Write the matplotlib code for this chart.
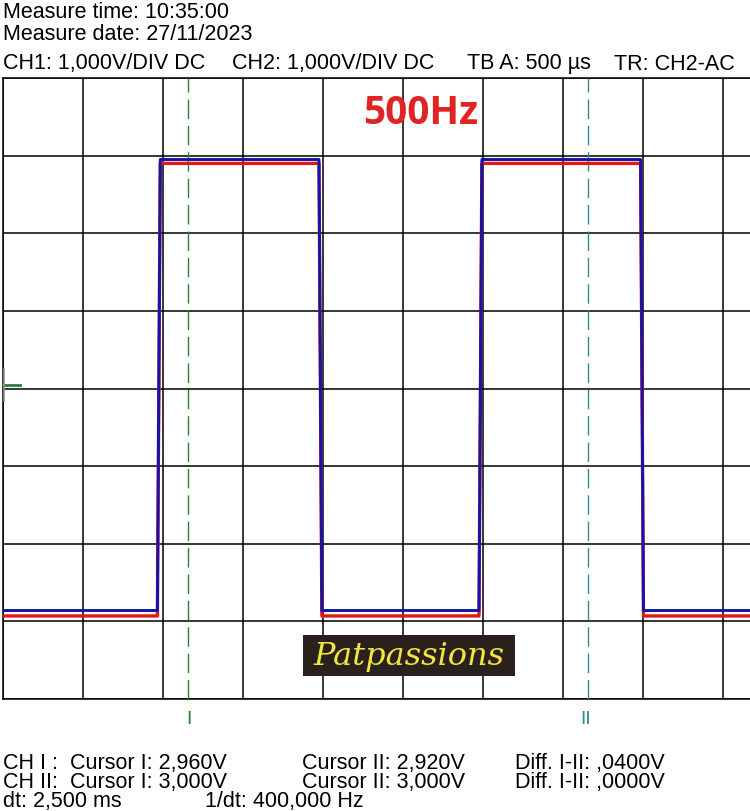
import matplotlib
matplotlib.use("Agg")
import matplotlib.pyplot as plt
from matplotlib.patches import Rectangle
import numpy as np

W, H = 750, 812

# scope settings (ms per div, V per div)
MS_PER_DIV = 0.5
V_PER_DIV = 1.0

ch1_edges = [0.965, 1.975, 2.975, 3.985]
ch1_high, ch1_low = 2.90, -2.93
ch2_edges = [0.965, 1.975, 2.975, 3.985]
ch2_high, ch2_low = 2.95, -2.86
rise_ms = 0.018

cursor1_ms = 1.156
cursor2_ms = 3.656

header = ["Measure time: 10:35:00", "Measure date: 27/11/2023"]
settings = [("CH1: 1,000V/DIV DC", 3), ("CH2: 1,000V/DIV DC", 232),
            ("TB A: 500 µs", 467), ("TR: CH2-AC", 614)]
footer = [
    [("CH I :  Cursor I: 2,960V", 3), ("Cursor II: 2,920V", 302), ("Diff. I-II: ,0400V", 515)],
    [("CH II:  Cursor I: 3,000V", 3), ("Cursor II: 3,000V", 302), ("Diff. I-II: ,0000V", 515)],
    [("dt: 2,500 ms", 3), ("1/dt: 400,000 Hz", 205)],
]


def square(edges, high, low, tmax):
    t, v = [0.0], [low]
    cur = low
    for e in edges:
        new = high if cur == low else low
        t += [e, e + rise_ms]
        v += [cur, new]
        cur = new
    t.append(tmax)
    v.append(cur)
    return np.array(t), np.array(v)


def px(x, y):
    return x / W, 1 - y / H


fig = plt.figure(figsize=(W / 100, H / 100), dpi=100)
fig.patch.set_facecolor("white")

left, top, bottom = 3, 79, 700
ax = fig.add_axes([left / W, 1 - bottom / H, (W - left) / W, (bottom - top) / H])
xmax = (W - left) / 80 * MS_PER_DIV
ax.set_xlim(0, xmax)
ax.set_ylim(-4 * V_PER_DIV, 4 * V_PER_DIV)
ax.set_xticks(np.arange(0, xmax, MS_PER_DIV))
ax.set_yticks(np.arange(-4, 5, V_PER_DIV))
ax.tick_params(length=0, labelbottom=False, labelleft=False)
ax.grid(True, color="black", linewidth=1.1)
for s in ["top", "bottom", "left"]:
    ax.spines[s].set_linewidth(1.1)
ax.spines["right"].set_visible(False)

# cursors
ax.axvline(cursor1_ms, color="#2e7d3a", lw=1.0, dashes=(14, 5), zorder=3)
ax.axvline(cursor2_ms, color="#2f8a8a", lw=1.0, dashes=(14, 5), zorder=3)

t1, v1 = square(ch1_edges, ch1_high, ch1_low, xmax)
t2, v2 = square(ch2_edges, ch2_high, ch2_low, xmax)
ax.plot(t1, v1, color="#e01818", lw=2.4, zorder=4)
ax.plot(t2, v2, color="#1414a8", lw=2.1, zorder=5)

# ground marker
ax.plot([0, 0.105], [0.045, 0.045], color="#2e7d3a", lw=2.0, zorder=6, clip_on=False)
ax.plot([0.004, 0.004], [-0.16, 0.25], color="#909090", lw=1.2, zorder=6, clip_on=False)

# texts
font = "Liberation Sans"
for i, s in enumerate(header):
    x, y = px(3, 13 + 22 * i)
    fig.text(x, y, s, fontsize=15.5, family=font, va="center")
for s, xp in settings:
    x, y = px(xp, 64)
    fig.text(x, y, s, fontsize=15.5, family=font, va="center")
for row, items in enumerate(footer):
    for s, xp in items:
        x, y = px(xp, 764 + 19 * row)
        fig.text(x, y, s, fontsize=15.5, family=font, va="center")

x, y = px(421, 113)
fig.text(x, y, "500Hz", fontsize=28, family="Open Sans", weight="bold",
         color="#e02424", ha="center", va="center")

x, y = px(189, 720)
fig.text(x, y, "I", fontsize=14, family=font, color="#2e7d3a", ha="center", va="center")
x, y = px(586, 720)
fig.text(x, y, "II", fontsize=14, family=font, color="#2f8a8a", ha="center", va="center")

# logo
x0, y0 = px(303, 677)
fig.patches.append(Rectangle((x0, y0), 212 / W, 41 / H, transform=fig.transFigure,
                             facecolor="#2b211c", edgecolor="none", zorder=10))
x, y = px(409, 657)
fig.text(x, y, "Patpassions", fontsize=23, family="DejaVu Serif", style="italic",
         color="#f0e640", ha="center", va="center", zorder=11)

fig.savefig("out.png", dpi=100)
